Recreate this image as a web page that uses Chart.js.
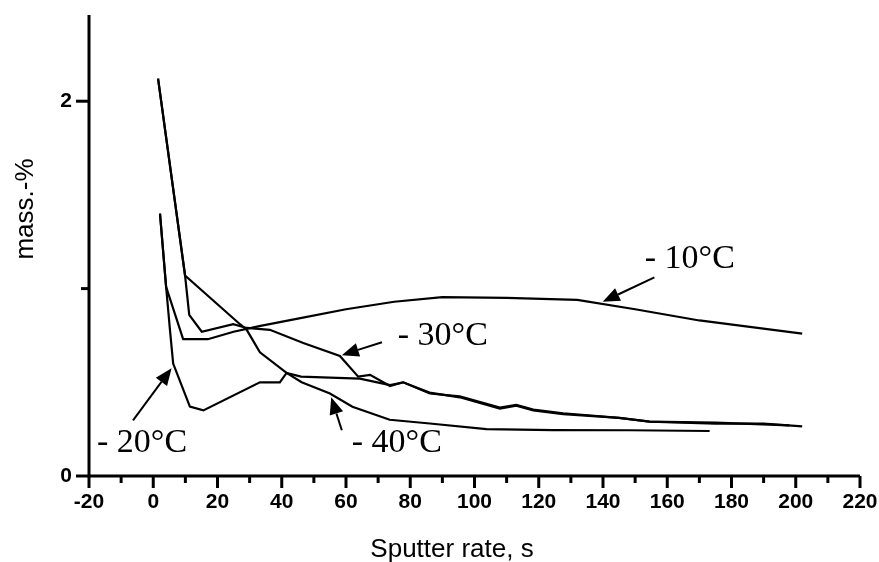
<!DOCTYPE html>
<html>
<head>
<meta charset="utf-8">
<script src="https://cdn.jsdelivr.net/npm/chart.js@4.4.1/dist/chart.umd.min.js"></script>
<style>
  html, body { margin: 0; padding: 0; background: #fff; }
  #wrap { width: 879px; height: 562px; position: relative; }
</style>
</head>
<body>
<div id="wrap"><canvas id="chart"></canvas></div>
<script>
// tick labels
const xTicks = [-20, 0, 20, 40, 60, 80, 100, 120, 140, 160, 180, 200, 220];
const xMinor = [-10, 10, 30, 50, 70, 90, 110, 130, 150, 170, 190, 210];
const yTicks = [0, 2];
const yMinor = [1];

// -10°C
const m10X = [2.1, 4.0, 9.3, 17, 25, 33, 45, 60, 75, 90, 110, 132, 150, 170, 202];
const m10Y = [1.40, 1.01, 0.73, 0.73, 0.77, 0.80, 0.84, 0.89, 0.93, 0.955, 0.95, 0.94, 0.89, 0.83, 0.76];

// -20°C
const m20X = [2.1, 4.0, 5.2, 6.2, 11.4, 15.6, 33.2, 39.4, 41.5, 46, 55, 64.3, 73.7, 77.8, 86, 95.4, 107.9, 113, 118.3, 127.6, 145, 154.5, 175, 198];
const m20Y = [1.40, 1.01, 0.78, 0.60, 0.37, 0.35, 0.50, 0.50, 0.55, 0.53, 0.525, 0.52, 0.485, 0.50, 0.445, 0.42, 0.36, 0.375, 0.35, 0.33, 0.31, 0.29, 0.285, 0.27];

// -30°C
const m30X = [1.5, 9.9, 11.2, 15.1, 24.9, 29.1, 36.3, 46.7, 58.1, 63.8, 67.5, 73.7, 77.8, 86.1, 95.4, 107.9, 113, 118.3, 127.6, 145, 154.5, 175, 190, 202];
const m30Y = [2.12, 1.07, 0.86, 0.77, 0.81, 0.79, 0.78, 0.71, 0.64, 0.53, 0.54, 0.48, 0.50, 0.44, 0.425, 0.365, 0.38, 0.355, 0.335, 0.31, 0.29, 0.28, 0.28, 0.265];

// -40°C
const m40X = [1.5, 9.9, 27, 29.1, 33.2, 41.5, 46.2, 55, 62, 73.6, 86.1, 103.7, 124.5, 148.3, 173.2];
const m40Y = [2.12, 1.07, 0.81, 0.78, 0.66, 0.55, 0.50, 0.44, 0.37, 0.30, 0.28, 0.25, 0.245, 0.244, 0.24];

// callouts: text anchor and arrow tail/tip, in data units
const callouts = [
  { text: "- 10\u00B0C", at: [153, 1.11], tail: [156, 1.06], tip: [139.9, 0.93] },
  { text: "- 30\u00B0C", at: [76.1, 0.70], tail: [71.2, 0.714], tip: [58.7, 0.645] },
  { text: "- 20\u00B0C", at: [-17.5, 0.127], tail: [-6.3, 0.297], tip: [5.7, 0.575] },
  { text: "- 40\u00B0C", at: [61.8, 0.127], tail: [58.7, 0.244], tip: [55.4, 0.42] },
];

const toPoints = (xs, ys) => xs.map((x, i) => ({ x, y: ys[i] }));

const series = [
  ["- 10\u00B0C", m10X, m10Y],
  ["- 20\u00B0C", m20X, m20Y],
  ["- 30\u00B0C", m30X, m30Y],
  ["- 40\u00B0C", m40X, m40Y],
];

const sans = "'Liberation Sans', Arial, sans-serif";
const serif = "'Liberation Serif', 'Times New Roman', serif";

const drawArrow = (ctx, x0, y0, x1, y1) => {
  const ang = Math.atan2(y1 - y0, x1 - x0);
  const len = 17;
  const half = 7;
  const bx = x1 - len * Math.cos(ang);
  const by = y1 - len * Math.sin(ang);
  ctx.beginPath();
  ctx.moveTo(x0, y0);
  ctx.lineTo(bx, by);
  ctx.stroke();
  ctx.beginPath();
  ctx.moveTo(x1, y1);
  ctx.lineTo(bx + half * Math.sin(ang), by - half * Math.cos(ang));
  ctx.lineTo(bx - half * Math.sin(ang), by + half * Math.cos(ang));
  ctx.closePath();
  ctx.fill();
};

const framePlugin = {
  id: "frame",
  afterDraw(chart) {
    const { ctx, chartArea: a } = chart;
    const x = chart.scales.x;
    const y = chart.scales.y;
    ctx.save();
    ctx.strokeStyle = "#000";
    ctx.fillStyle = "#000";

    // axes
    ctx.lineWidth = 3;
    ctx.beginPath();
    ctx.moveTo(a.left, a.top);
    ctx.lineTo(a.left, a.bottom);
    ctx.lineTo(a.right, a.bottom);
    ctx.stroke();

    // tick marks
    xTicks.forEach((v) => {
      const px = x.getPixelForValue(v);
      ctx.beginPath(); ctx.moveTo(px, a.bottom); ctx.lineTo(px, a.bottom + 12); ctx.stroke();
    });
    xMinor.forEach((v) => {
      const px = x.getPixelForValue(v);
      ctx.beginPath(); ctx.moveTo(px, a.bottom); ctx.lineTo(px, a.bottom + 7); ctx.stroke();
    });
    yTicks.forEach((v) => {
      const py = y.getPixelForValue(v);
      ctx.beginPath(); ctx.moveTo(a.left, py); ctx.lineTo(a.left - 13, py); ctx.stroke();
    });
    yMinor.forEach((v) => {
      const py = y.getPixelForValue(v);
      ctx.beginPath(); ctx.moveTo(a.left, py); ctx.lineTo(a.left - 8, py); ctx.stroke();
    });

    // axis titles
    ctx.font = `26px ${sans}`;
    ctx.textAlign = "center";
    ctx.textBaseline = "alphabetic";
    ctx.fillText("Sputter rate, s", 452, 557);
    ctx.save();
    ctx.translate(33, 209);
    ctx.rotate(-Math.PI / 2);
    ctx.fillText("mass.-%", 0, 0);
    ctx.restore();

    // callouts
    ctx.font = `34px ${serif}`;
    ctx.textAlign = "left";
    ctx.lineWidth = 2;
    callouts.forEach((c) => {
      ctx.fillText(c.text, x.getPixelForValue(c.at[0]), y.getPixelForValue(c.at[1]));
      drawArrow(
        ctx,
        x.getPixelForValue(c.tail[0]), y.getPixelForValue(c.tail[1]),
        x.getPixelForValue(c.tip[0]), y.getPixelForValue(c.tip[1])
      );
    });
    ctx.restore();
  },
};

new Chart(document.getElementById("chart"), {
  type: "line",
  data: {
    datasets: series.map(([label, xs, ys]) => ({
      label,
      data: toPoints(xs, ys),
      borderColor: "#000",
      borderWidth: 2.2,
      pointRadius: 0,
      tension: 0,
      fill: false,
    })),
  },
  options: {
    responsive: true,
    maintainAspectRatio: false,
    animation: false,
    layout: { padding: { top: 15, right: 19, left: 0, bottom: 0 } },
    plugins: { legend: { display: false }, tooltip: { enabled: false } },
    scales: {
      x: {
        type: "linear",
        min: -20,
        max: 220,
        afterBuildTicks: (s) => { s.ticks = xTicks.map((value) => ({ value })); },
        afterFit: (s) => {
          s.height = 86;
          s.paddingLeft = 0;
          s.paddingRight = 0;
        },
        border: { display: false },
        grid: { display: false, drawTicks: false },
        ticks: { color: "#000", font: { family: sans, size: 21, weight: "bold" }, padding: 14, maxRotation: 0, autoSkip: false },
      },
      y: {
        type: "linear",
        min: 0,
        max: 2.46,
        afterBuildTicks: (s) => { s.ticks = yTicks.map((value) => ({ value })); },
        afterFit: (s) => {
          s.width = 89;
          s.paddingTop = 0;
          s.paddingBottom = 0;
        },
        border: { display: false },
        grid: { display: false, drawTicks: false },
        ticks: { color: "#000", font: { family: sans, size: 21, weight: "bold" }, padding: 17 },
      },
    },
  },
  plugins: [framePlugin],
});
</script>
</body>
</html>
